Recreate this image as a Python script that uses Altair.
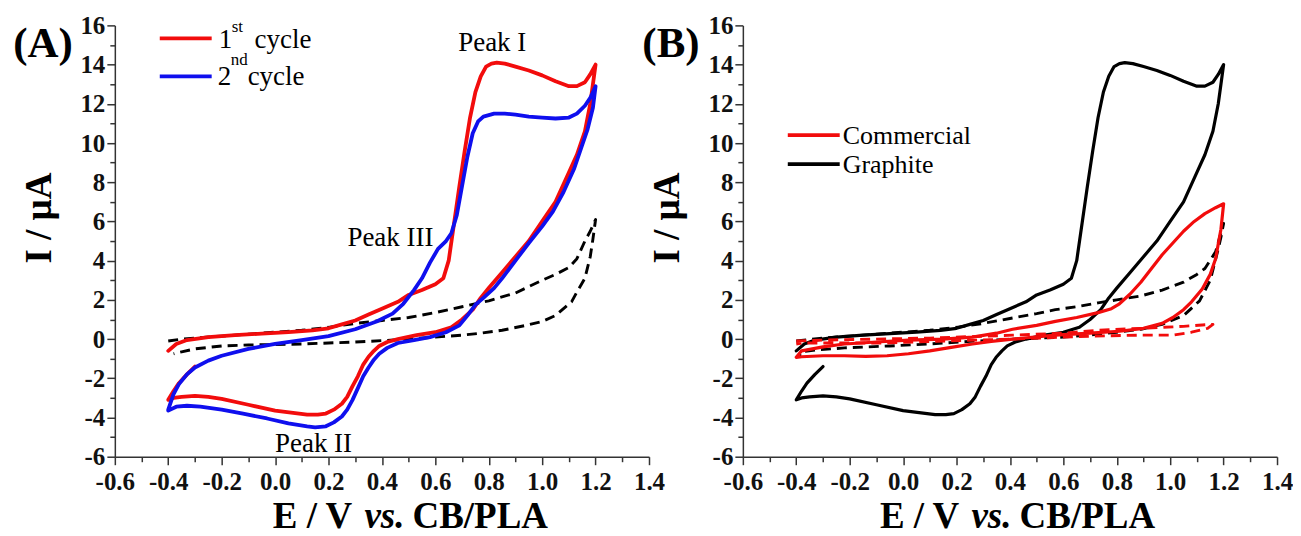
import altair as alt
import pandas as pd

# ---------------- data ----------------
X_TICKS = [round(-0.6 + 0.1 * k, 1) for k in range(21)]
Y_TICKS = list(range(-6, 17))

# Panel A: 1st cycle (red)
A_CYCLE1_X = [-0.40, -0.37, -0.33, -0.25, -0.15, -0.05, 0.05, 0.14, 0.20, 0.25,
              0.30, 0.35, 0.40, 0.46, 0.50, 0.55, 0.60, 0.63, 0.65, 0.67,
              0.69, 0.71, 0.73, 0.75, 0.77, 0.79, 0.81, 0.83, 0.86, 0.90,
              0.95, 1.00, 1.05, 1.10, 1.13, 1.16, 1.18, 1.20,
              1.19, 1.18, 1.16, 1.13, 1.10, 1.05, 1.00, 0.95, 0.90, 0.85,
              0.80, 0.77, 0.74, 0.70, 0.66, 0.60, 0.53, 0.46, 0.42, 0.39,
              0.37, 0.35, 0.33, 0.31, 0.29, 0.27, 0.25, 0.22, 0.19, 0.16,
              0.12, 0.06, 0.00, -0.10, -0.20, -0.25, -0.30, -0.35, -0.38, -0.40,
              -0.38, -0.36, -0.33, -0.30]
A_CYCLE1_Y = [-0.60, -0.25, -0.05, 0.10, 0.20, 0.28, 0.35, 0.44, 0.55, 0.75,
              0.95, 1.25, 1.55, 1.90, 2.25, 2.50, 2.80, 3.10, 4.0, 5.9,
              7.8, 9.6, 11.3, 12.6, 13.4, 13.9, 14.05, 14.1, 14.05, 13.9,
              13.7, 13.45, 13.15, 12.9, 12.9, 13.1, 13.5, 14.0,
              13.0, 12.0, 10.6, 9.4, 8.5, 7.0, 6.0, 5.0, 4.2, 3.4,
              2.6, 2.1, 1.5, 1.0, 0.6, 0.35, 0.2, 0.0, -0.15, -0.35,
              -0.6, -0.9, -1.3, -1.9, -2.4, -2.95, -3.3, -3.6, -3.8, -3.85,
              -3.85, -3.75, -3.65, -3.35, -3.05, -2.95, -2.9, -2.95, -3.0, -3.1,
              -2.65, -2.25, -1.8, -1.4]

# Panel A: 2nd cycle (blue)
A_CYCLE2_X = [-0.40, -0.38, -0.36, -0.33, -0.30, -0.25, -0.20, -0.10, 0.00, 0.10,
              0.20, 0.30, 0.38, 0.44, 0.48, 0.52, 0.55, 0.58, 0.61, 0.64,
              0.66, 0.68, 0.70, 0.72, 0.74, 0.76, 0.78, 0.82, 0.86, 0.90,
              0.95, 1.00, 1.05, 1.10, 1.13, 1.16, 1.18, 1.20,
              1.19, 1.17, 1.15, 1.12, 1.08, 1.04, 1.00, 0.95, 0.90, 0.85,
              0.82, 0.78, 0.75, 0.72, 0.69, 0.64, 0.58, 0.52, 0.46, 0.42,
              0.39, 0.37, 0.35, 0.33, 0.31, 0.29, 0.27, 0.25, 0.22, 0.19,
              0.15, 0.12, 0.05, -0.03, -0.12, -0.20, -0.28, -0.33, -0.37, -0.40]
A_CYCLE2_Y = [-3.6, -2.8, -2.3, -1.8, -1.45, -1.1, -0.85, -0.5, -0.25, -0.05,
              0.15, 0.5, 0.9, 1.3, 1.8, 2.5, 3.1, 3.9, 4.6, 5.0,
              5.4, 6.3, 7.8, 9.3, 10.5, 11.1, 11.35, 11.5, 11.5, 11.45,
              11.35, 11.3, 11.25, 11.3, 11.5, 11.9, 12.3, 12.9,
              11.8, 10.7, 9.9, 8.7, 7.5, 6.5, 5.75, 4.9, 4.0, 3.1,
              2.6, 2.1, 1.75, 1.2, 0.7, 0.35, 0.1, -0.05, -0.2, -0.45,
              -0.75, -1.05, -1.45, -1.9, -2.5, -3.1, -3.6, -3.95, -4.25, -4.45,
              -4.5, -4.45, -4.3, -4.05, -3.8, -3.6, -3.45, -3.4, -3.45, -3.65]

# Panel A: blank (black dashed)
A_BLANK_X = [-0.40, -0.35, -0.30, -0.20, -0.10, 0.00, 0.10, 0.20, 0.30, 0.40,
             0.50, 0.60, 0.70, 0.80, 0.90, 1.00, 1.05, 1.10, 1.13, 1.16,
             1.18, 1.20,
             1.19, 1.18, 1.16, 1.13, 1.11, 1.05, 1.00, 0.94, 0.85, 0.77,
             0.70, 0.60, 0.50, 0.40, 0.30, 0.20, 0.10, 0.00, -0.10, -0.20,
             -0.30, -0.35, -0.38]
A_BLANK_Y = [-0.1, 0.0, 0.05, 0.15, 0.25, 0.35, 0.45, 0.6, 0.8, 0.95,
             1.1, 1.35, 1.65, 1.95, 2.35, 3.0, 3.3, 3.65, 4.1, 5.0,
             5.5, 6.1,
             5.1, 4.2, 3.1, 2.4, 1.9, 1.2, 0.9, 0.7, 0.45, 0.3,
             0.2, 0.1, 0.0, -0.08, -0.15, -0.2, -0.25, -0.28, -0.3, -0.35,
             -0.5, -0.65, -0.75]

# Panel B: graphite (black solid) – same curve as the 1st cycle in (A)
B_GRAPHITE_X = A_CYCLE1_X
B_GRAPHITE_Y = A_CYCLE1_Y

# Panel B: commercial (red solid)
B_COMM_X = [-0.40, -0.38, -0.30, -0.22, -0.10, 0.02, 0.15, 0.26, 0.35, 0.41,
            0.50, 0.57, 0.65, 0.73, 0.78, 0.81, 0.85, 0.89, 0.93, 0.97,
            1.01, 1.05, 1.09, 1.13, 1.17, 1.20,
            1.19, 1.17, 1.15, 1.12, 1.08, 1.05, 1.01, 0.97, 0.90, 0.81,
            0.70, 0.57, 0.41, 0.33, 0.26, 0.18, 0.10, 0.02, -0.06, -0.14,
            -0.22, -0.30, -0.38, -0.40]
B_COMM_Y = [-0.93, -0.6, -0.4, -0.25, -0.15, -0.05, 0.0, 0.1, 0.3, 0.5,
            0.7, 0.9, 1.1, 1.35, 1.55, 1.8, 2.3, 2.9, 3.6, 4.3,
            4.9, 5.5, 6.0, 6.4, 6.7, 6.9,
            5.6, 4.1, 3.3, 2.55, 1.9, 1.5, 1.1, 0.8, 0.55, 0.4,
            0.3, 0.2, 0.0, -0.12, -0.25, -0.42, -0.6, -0.75, -0.85, -0.88,
            -0.85, -0.85, -0.9, -0.93]

# Panel B: commercial blank (red dashed)
B_COMM_BLANK_X = [-0.40, -0.30, -0.10, 0.10, 0.41, 0.60, 0.73, 0.90, 1.05, 1.12, 1.16,
                  1.14, 1.08, 1.01, 0.89, 0.70, 0.41, 0.10, -0.06, -0.30, -0.38, -0.40]
B_COMM_BLANK_Y = [-0.1, -0.05, 0.0, 0.05, 0.2, 0.3, 0.45, 0.55, 0.65, 0.72, 0.75,
                  0.55, 0.35, 0.2, 0.2, 0.15, 0.0, -0.12, -0.2, -0.2, -0.2, -0.25]

# Panel B: graphite blank (black dashed)
B_GRAPH_BLANK_X = [-0.40, -0.30, -0.20, -0.10, 0.00, 0.10, 0.20, 0.30, 0.40, 0.50,
                   0.57, 0.65, 0.73, 0.80, 0.89, 0.97, 1.05, 1.10, 1.13, 1.17, 1.20,
                   1.19, 1.18, 1.15, 1.11, 1.05, 0.97, 0.89, 0.80, 0.73, 0.60,
                   0.41, 0.25, 0.10, -0.05, -0.22, -0.32, -0.38, -0.39]
B_GRAPH_BLANK_Y = [-0.1, 0.05, 0.15, 0.25, 0.35, 0.45, 0.6, 0.8, 1.05, 1.3,
                   1.5, 1.65, 1.85, 2.0, 2.2, 2.5, 2.9, 3.3, 3.6, 4.45, 5.9,
                   5.2, 4.6, 3.0, 1.95, 1.2, 0.75, 0.5, 0.35, 0.25, 0.1,
                   0.0, -0.12, -0.25, -0.35, -0.45, -0.55, -0.65, -0.9]

# ---------------- styling ----------------
SERIF = "Liberation Serif"
RED = "#f20c0c"
BLUE = "#0f0fee"
BLACK = "#000000"
W, H = 535, 432

major_x = "abs(round(datum.value*10)) % 2 == 0"
major_y = "abs(round(datum.value)) % 2 == 0"

x_enc = alt.X(
    "x:Q",
    scale=alt.Scale(domain=[-0.6, 1.4], nice=False, zero=False),
    axis=alt.Axis(
        values=X_TICKS, title=None, grid=False,
        labelExpr=f"{major_x} ? (datum.value < -0.001 ? '-' : '') + format(abs(datum.value), '.1f') : ''",
        tickSize={"condition": {"test": major_x, "value": 8}, "value": 5},
        labelOverlap=False, labelFlush=False,
        labelFont=SERIF, labelFontWeight="bold", labelFontSize=25, labelColor="#111",
        labelPadding=5, domainColor="#333", tickColor="#333", domainWidth=1.5, tickWidth=1.5,
    ),
)
y_enc = alt.Y(
    "y:Q",
    scale=alt.Scale(domain=[-6, 16], nice=False, zero=False),
    axis=alt.Axis(
        values=Y_TICKS, title=None, grid=False,
        labelExpr=f"{major_y} ? '' + datum.value : ''",
        tickSize={"condition": {"test": major_y, "value": 8}, "value": 5},
        labelOverlap=False, labelFlush=False,
        labelFont=SERIF, labelFontWeight="bold", labelFontSize=25, labelColor="#111",
        labelPadding=2, domainColor="#333", tickColor="#333", domainWidth=1.5, tickWidth=1.5,
    ),
)


def curve(xs, ys, color, width=3.2, dash=None):
    df = pd.DataFrame({"x": xs, "y": ys, "i": list(range(len(xs)))})
    kw = dict(color=color, strokeWidth=width, strokeJoin="round", strokeCap="round")
    if dash is not None:
        kw["strokeDash"] = dash
        kw["strokeCap"] = "butt"
    return alt.Chart(df).mark_line(**kw).encode(x=x_enc, y=y_enc, order=alt.Order("i:Q"))


def txt(s, x, y, size, weight="normal", style="normal", align="left", angle=0, baseline="alphabetic"):
    return alt.Chart(pd.DataFrame({"t": [s]})).mark_text(
        text=s, font=SERIF, fontSize=size, fontWeight=weight, fontStyle=style,
        align=align, baseline=baseline, angle=angle, color="#000",
    ).encode(x=alt.value(x), y=alt.value(y))


def legline(x1, x2, y, color):
    return alt.Chart(pd.DataFrame({"t": [0]})).mark_rule(color=color, strokeWidth=3.8).encode(
        x=alt.value(x1), x2=alt.value(x2), y=alt.value(y))


def frame_texts(label, xt_shift):
    return [
        txt(label, -72, 19, 43, weight="bold", align="center", baseline="middle"),
        txt("I / µA", -75, 193, 37, weight="bold", align="center", angle=270, baseline="middle"),
        txt("E / V", 198 + xt_shift, 503, 37, weight="bold", align="center"),
        txt("vs.", 270 + xt_shift, 503, 37, weight="bold", style="italic", align="center"),
        txt("CB/PLA", 366 + xt_shift, 503, 37, weight="bold", align="center"),
    ]


panel_a = alt.layer(
    curve(A_BLANK_X, A_BLANK_Y, BLACK, 2.9, [10, 6]),
    curve(A_CYCLE1_X, A_CYCLE1_Y, RED, 3.8),
    curve(A_CYCLE2_X, A_CYCLE2_Y, BLUE, 3.8),
    legline(45, 97, 13, RED),
    legline(45, 97, 51, BLUE),
    txt("1", 104, 23, 27),
    txt("st", 117, 7, 17),
    txt("cycle", 140, 23, 27),
    txt("2", 103, 60, 27),
    txt("nd", 116, 40, 17),
    txt("cycle", 133, 60, 27),
    txt("Peak I", 378, 26, 27, align="center"),
    txt("Peak III", 276, 221, 27, align="center"),
    txt("Peak II", 199, 427, 27, align="center"),
    *frame_texts("(A)", 0),
).properties(width=W, height=H)

panel_b = alt.layer(
    curve(B_GRAPH_BLANK_X, B_GRAPH_BLANK_Y, BLACK, 2.9, [10, 6]),
    curve(B_GRAPHITE_X, B_GRAPHITE_Y, BLACK, 3.2),
    curve(B_COMM_BLANK_X, B_COMM_BLANK_Y, RED, 2.9, [10, 6]),
    curve(B_COMM_X, B_COMM_Y, RED, 3.2),
    legline(45, 97, 110, RED),
    legline(45, 97, 139, BLACK),
    txt("Commercial", 100, 119, 26),
    txt("Graphite", 100, 148, 26),
    *frame_texts("(B)", -21),
).properties(width=W, height=H)

chart = alt.hconcat(panel_a, panel_b, spacing=94, bounds="flush").configure_view(
    stroke=None
).properties(padding={"left": 5, "top": 5, "right": 0, "bottom": 0})

chart.save("out.html", embed_options={"renderer": "svg", "actions": False})
